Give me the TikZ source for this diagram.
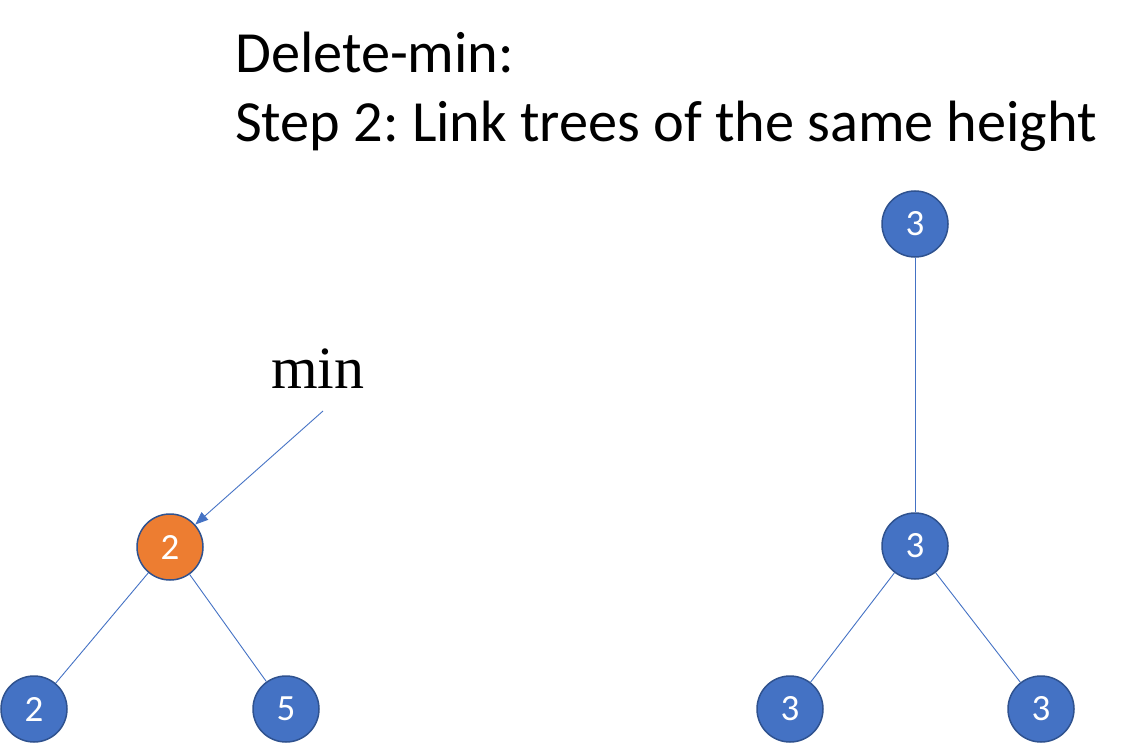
\documentclass[tikz,border=0pt]{standalone}
\usepackage{fontspec}
\setmainfont{Carlito}
\newfontfamily\minfont{Liberation Serif}
\usetikzlibrary{arrows.meta}
\definecolor{nodeblue}{HTML}{4472C4}
\definecolor{nodeborder}{HTML}{2F528F}
\definecolor{nodeorange}{HTML}{ED7D31}
\tikzset{
  treenode/.style={circle, draw=nodeborder, line width=1.5pt, fill=nodeblue, minimum size=66pt, inner sep=0pt, text=white, font=\fontsize{37}{37}\selectfont},
  minnode/.style={treenode, fill=nodeorange},
  treeedge/.style={draw=nodeblue, line width=0.9pt},
  titletext/.style={anchor=base west, inner sep=0pt, font=\fontsize{58.3}{58.3}\selectfont\frenchspacing},
}
\begin{document}
\begin{tikzpicture}[x=1pt,y=-1pt]
\useasboundingbox (0,0) rectangle (1132,754);
\node[titletext] (t1) at (235,73) {Delete-min:};
\node[titletext] (t2) at (235,142) {Step 2: Link trees of the same height};
\node[anchor=base west, inner sep=0pt, font=\minfont\fontsize{60}{60}\selectfont] (minlabel) at (271,388) {min};

\node[minnode] (o) at (170,547) {2};
\node[treenode] (l2) at (34,709) {2};
\node[treenode] (l5) at (286,709) {5};

\node[treenode] (r0) at (915,224) {3};
\node[treenode] (r1) at (915,546) {3};
\node[treenode] (r2) at (790,709) {3};
\node[treenode] (r3) at (1041,709) {3};

\draw[treeedge] (o) -- (l2);
\draw[treeedge] (o) -- (l5);
\draw[treeedge] (r0) -- (r1);
\draw[treeedge] (r1) -- (r2);
\draw[treeedge] (r1) -- (r3);

\coordinate (arrowstart) at (323,411);
\draw[treeedge, -{Triangle[length=13pt,width=10pt]}] (arrowstart) -- (o);
\end{tikzpicture}
\end{document}
